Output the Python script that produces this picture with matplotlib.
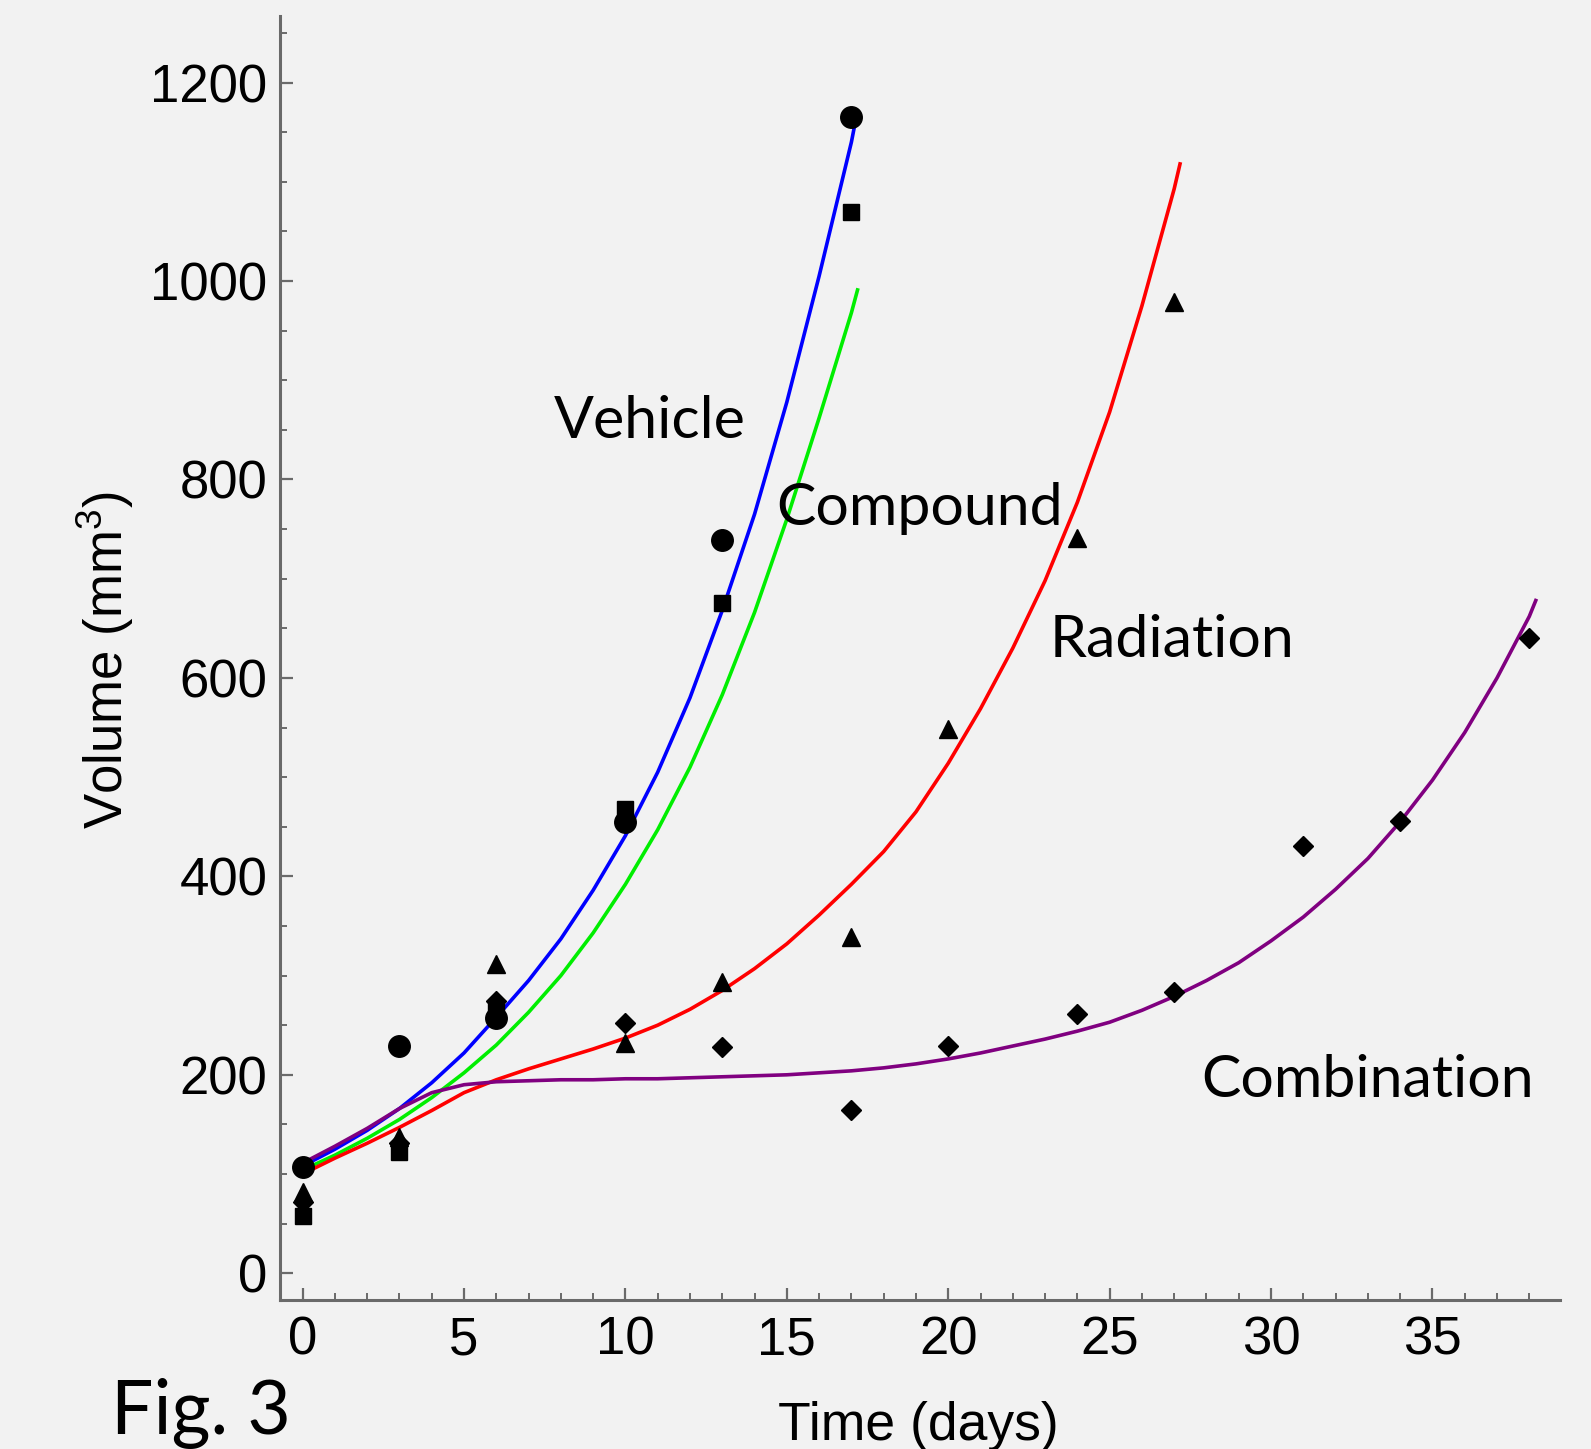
import matplotlib
matplotlib.use("Agg")
import matplotlib.pyplot as plt

# measured tumour volumes (mm^3)
days_vehicle = [0, 3, 6, 10, 13, 17]
vol_vehicle = [107, 229, 257, 455, 739, 1165]

days_compound = [0, 3, 6, 10, 13, 17]
vol_compound = [58, 122, 265, 468, 675, 1070]

days_radiation = [0, 3, 6, 10, 13, 17, 20, 24, 27]
vol_radiation = [82, 137, 312, 232, 294, 339, 549, 741, 979]

days_combination = [0, 3, 6, 10, 13, 17, 20, 24, 27, 31, 34, 38]
vol_combination = [72, 131, 274, 252, 228, 165, 229, 261, 283, 431, 456, 640]

# model curves at whole days (plus where each line ends)
fit_days_vehicle = list(range(0, 18)) + [17.12]
fit_vehicle = [108, 125, 144, 166, 192, 222, 258, 295, 337, 386, 441, 505,
               580, 668, 765, 878, 1005, 1140, 1160]

fit_days_compound = list(range(0, 18)) + [17.19]
fit_compound = [104, 119, 136, 155, 177, 202, 230, 263, 300, 343, 392, 447,
                510, 583, 666, 760, 862, 968, 991]

fit_days_radiation = list(range(0, 28)) + [27.18]
fit_radiation = [100, 116, 131, 147, 164, 182, 195, 206, 216, 226, 237, 250,
                 266, 285, 307, 332, 361, 392, 425, 465, 514, 569, 630, 698,
                 777, 868, 975, 1093, 1118]

fit_days_combination = list(range(0, 39)) + [38.2]
fit_combination = [111, 128, 146, 166, 182, 190, 193, 194, 195, 195, 196, 196,
                   197, 198, 199, 200, 202, 204, 207, 211, 216, 222, 229, 236,
                   244, 253, 265, 279, 295, 313, 335, 359, 387, 418, 455, 497,
                   545, 600, 662, 678]

x_ticks = [0, 5, 10, 15, 20, 25, 30, 35]
y_ticks = [0, 200, 400, 600, 800, 1000, 1200]

bg = "#f2f2f2"
axis_col = "#6a6a6a"

plt.rcParams["font.family"] = ["Liberation Sans", "DejaVu Sans"]
plt.rcParams["mathtext.fontset"] = "custom"
plt.rcParams["mathtext.rm"] = "Liberation Sans"
plt.rcParams["mathtext.it"] = "Liberation Sans"

fig = plt.figure(figsize=(15.91, 14.49), dpi=100, facecolor=bg)
ax = fig.add_axes([0.176, 0.1028, 0.8045, 0.8861], facecolor=bg)

# fitted curves
lw = 2.6
ax.plot(fit_days_vehicle, fit_vehicle, color="#0000ff", lw=lw, zorder=2)
ax.plot(fit_days_compound, fit_compound, color="#00ee00", lw=lw, zorder=2)
ax.plot(fit_days_radiation, fit_radiation, color="#ff0000", lw=lw, zorder=2)
ax.plot(fit_days_combination, fit_combination, color="#800080", lw=lw, zorder=2)

# data points
ax.plot(days_vehicle, vol_vehicle, "o", color="black", ms=15.5, zorder=3)
ax.plot(days_compound, vol_compound, "s", color="black", ms=12, zorder=3)
ax.plot(days_radiation, vol_radiation, "^", color="black", ms=13, zorder=3)
ax.plot(days_combination, vol_combination, "D", color="black", ms=10.5, zorder=3)

ax.set_xlim(-0.70, 38.95)
ax.set_ylim(-27, 1267)

for s in ["top", "right"]:
    ax.spines[s].set_visible(False)
for s in ["left", "bottom"]:
    ax.spines[s].set_color(axis_col)
    ax.spines[s].set_linewidth(2.2)

ax.set_xticks(x_ticks)
ax.set_yticks(y_ticks)
ax.set_xticks(list(range(0, 39)), minor=True)
ax.set_yticks(list(range(0, 1251, 50)), minor=True)
ax.tick_params(which="major", direction="in", length=9, width=1.6,
               color=axis_col, labelsize=38, pad=9)
ax.tick_params(which="minor", direction="in", length=4.8, width=1.4,
               color=axis_col)
ax.tick_params(axis="x", pad=11)

# labels
fig.text(918 / 1591, 1 - 1440 / 1449, "Time (days)", fontsize=38.5,
         ha="center", va="baseline")
fig.text(105 / 1591, 1 - 660 / 1449, "Volume (mm$^3$)", fontsize=38,
         rotation=90, ha="center", va="center")

ann = dict(fontsize=42.5, family=["Lato", "DejaVu Sans"], ha="left", va="baseline")
ax.text(7.77, 842, "Vehicle", **ann)
ax.text(14.68, 754, "Compound", **ann)
ax.text(23.13, 621, "Radiation", **ann)
ax.text(27.85, 178, "Combination", **ann)

fig.text(111 / 1591, 1 - 1434 / 1449, "Fig. 3", fontsize=54,
         family=["Lato", "DejaVu Sans"], ha="left", va="baseline")

fig.savefig("out.png", dpi=100, facecolor=bg)
